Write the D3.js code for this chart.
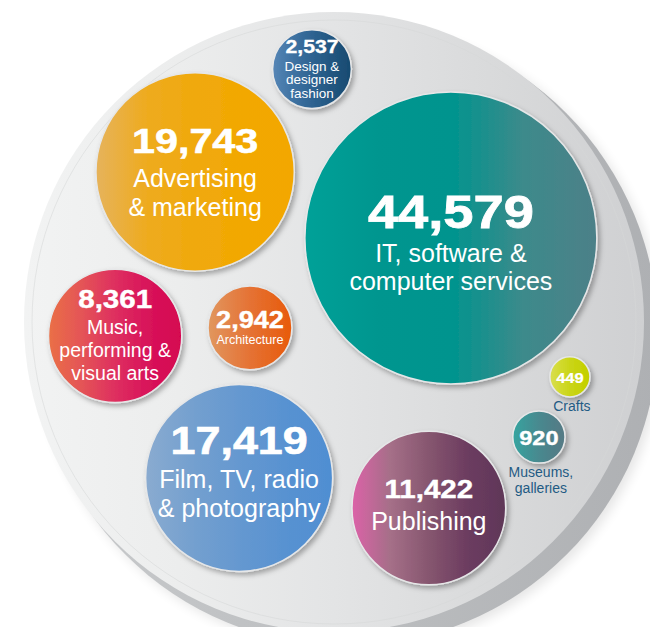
<!DOCTYPE html>
<html>
<head>
<meta charset="utf-8">
<script src="https://cdn.jsdelivr.net/npm/d3@7"></script>
<style>
  body { margin: 0; background: #fff; }
  text { font-family: "Liberation Sans", Arial, sans-serif; }
</style>
</head>
<body>
<div id="chart"></div>
<script>
// creative industries jobs by sector
var sectors = ["IT", "Advertising", "Design", "Music", "Architecture", "Film", "Publishing", "Crafts", "Museums"];
var jobs = [44579, 19743, 2537, 8361, 2942, 17419, 11422, 449, 920];
var labels = [
  ["IT, software &", "computer services"],
  ["Advertising", "& marketing"],
  ["Design &", "designer", "fashion"],
  ["Music,", "performing &", "visual arts"],
  ["Architecture"],
  ["Film, TV, radio", "& photography"],
  ["Publishing"],
  ["Crafts"],
  ["Museums,", "galleries"]
];

// where each bubble sits inside the big disc (-1..1 of disc radius)
var spots = [[0.377, -0.271], [-0.448, -0.484], [-0.071, -0.816], [-0.706, 0.045], [-0.271, 0.019],
             [-0.306, 0.503], [0.306, 0.6], [0.761, 0.177], [0.661, 0.371]];
// left -> right gradient stops
var colours = [
  ["#04a198", "#00968f", "#00948e", "#3d8a8b", "#4c8088"],
  ["#e6b35c", "#eeab20", "#f0a90c", "#f2a802", "#f3a700"],
  ["#5686b6", "#3f73a3", "#2e6391", "#225680", "#174a70"],
  ["#ea7046", "#e45457", "#de2f5f", "#d8135a", "#d50650"],
  ["#e1975e", "#e3844a", "#e57234", "#e6661f", "#e85a0a"],
  ["#8aabd0", "#74a0cf", "#6598d0", "#5892d1", "#4f8ed2"],
  ["#dc62a8", "#a56f88", "#86566f", "#6c3c60", "#5f3758"],
  ["#d9de52", "#d2da30", "#cad518", "#c6d208", "#c3cf00"],
  ["#35a5a0", "#3f9697", "#48898f", "#4f8089", "#567a85"]
];
// number size, label size, number->label gap, line height, nudge, label outside
var type = [
  [46, 25, 33.7, 28.5, 4.5, false],
  [35, 25, 33.7, 28.5, 0, false],
  [18, 13.5, 17.8, 13.8, 0, false],
  [25, 19.5, 25.7, 23, -1, false],
  [23, 12.6, 15.7, 0, 0, false],
  [38, 25, 34, 28.5, -6, false],
  [25, 25, 32.3, 0, -3, false],
  [14, 14, 13.8, 15.6, 0, true],
  [20, 14, 13.8, 15.6, 0, true]
];

var W = 650, H = 627, dcx = 334, dcy = 322, R = 310;

var svg = d3.select("#chart").append("svg")
  .attr("width", W)
  .attr("height", H);

var defs = svg.append("defs");

var x = d3.scaleLinear().domain([-1, 1]).range([dcx - R, dcx + R]);
var y = d3.scaleLinear().domain([-1, 1]).range([dcy - R, dcy + R]);
var size = d3.scaleSqrt().domain([0, d3.max(jobs)]).range([0, 140]);
function radius(v) { return 6 + size(v); }

function hGrad(id, stops) {
  var g = defs.append("linearGradient").attr("id", id)
    .attr("x1", 0).attr("x2", 1).attr("y1", 0).attr("y2", 0);
  stops.forEach(function (c, i) {
    g.append("stop").attr("offset", i / (stops.length - 1)).attr("stop-color", c);
  });
}

hGrad("disc", ["#f2f3f3", "#eceded", "#e3e4e5", "#d9dadb", "#cfd0d2"]);
hGrad("rim", ["#c8cacc", "#bcbec0", "#aeb0b3"]);
colours.forEach(function (c, i) { hGrad("g" + i, c); });

var blur = defs.append("filter").attr("id", "soft")
  .attr("x", "-10%").attr("y", "-10%").attr("width", "120%").attr("height", "120%");
blur.append("feGaussianBlur").attr("stdDeviation", 6);

var drop = defs.append("filter").attr("id", "drop")
  .attr("x", "-30%").attr("y", "-30%").attr("width", "160%").attr("height", "160%");
drop.append("feDropShadow")
  .attr("dx", 2.5).attr("dy", 3).attr("stdDeviation", 2.5)
  .attr("flood-color", "#000").attr("flood-opacity", 0.3);

// big grey disc with darker rim on lower right
svg.append("circle")
  .attr("cx", dcx + 16).attr("cy", dcy + 16).attr("r", R + 2)
  .attr("fill", "#000").attr("opacity", 0.1)
  .attr("filter", "url(#soft)");
svg.append("circle")
  .attr("cx", dcx + 12).attr("cy", dcy + 12).attr("r", R + 2)
  .attr("fill", "url(#rim)");
svg.append("circle")
  .attr("cx", dcx).attr("cy", dcy).attr("r", R)
  .attr("fill", "url(#disc)");
svg.append("circle")
  .attr("cx", dcx).attr("cy", dcy).attr("r", R - 8)
  .attr("fill", "none").attr("stroke", "#d6d7d8").attr("stroke-width", 0.8)
  .attr("opacity", 0.7);

var fmt = d3.format(",");

var bubbles = svg.selectAll("g.bubble")
  .data(jobs)
  .join("g")
  .attr("class", "bubble");

bubbles.append("circle")
  .attr("cx", (d, i) => x(spots[i][0]))
  .attr("cy", (d, i) => y(spots[i][1]))
  .attr("r", d => radius(d))
  .attr("fill", (d, i) => "url(#g" + i + ")")
  .attr("stroke", "#e6e7e8")
  .attr("stroke-width", 1.5)
  .attr("filter", "url(#drop)");

bubbles.each(function (d, i) {
  var g = d3.select(this);
  var t = type[i];
  var bx = x(spots[i][0]), by = y(spots[i][1]), br = radius(d);
  var cap = t[0] * 0.716;
  var nLines = labels[i].length;
  var numBase, labBase;
  if (t[5]) {
    numBase = by + cap / 2 + 1;
    labBase = by + br + t[2];
  } else {
    var total = cap + t[2] + (nLines - 1) * t[3];
    numBase = by - total / 2 + cap + t[4];
    labBase = numBase + t[2];
  }

  // heavy numerals: bold, widened and lightly stroked
  g.append("text")
    .attr("transform", "translate(" + bx + "," + numBase + ") scale(1.18,1)")
    .attr("text-anchor", "middle")
    .attr("fill", "#fff")
    .attr("stroke", "#fff")
    .attr("stroke-width", t[0] / 60)
    .style("font-weight", "bold")
    .style("font-size", t[0] + "px")
    .text(fmt(d));

  labels[i].forEach(function (line, k) {
    g.append("text")
      .attr("x", bx + (t[5] ? 2 : 0))
      .attr("y", labBase + k * t[3])
      .attr("text-anchor", "middle")
      .attr("fill", t[5] ? "#1f5b84" : "#fff")
      .style("font-size", t[1] + "px")
      .text(line);
  });
});
</script>
</body>
</html>
